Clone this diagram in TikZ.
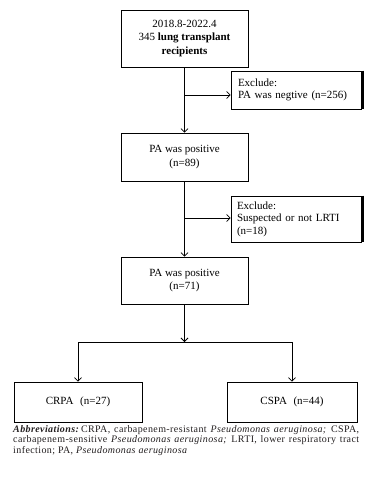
\documentclass[tikz,border=0pt]{standalone}
\usepackage{fontspec}
\setmainfont{Liberation Serif}
\newfontfamily\capfont[LetterSpace=4]{Liberation Serif}
\usetikzlibrary{arrows.meta}
\definecolor{captxt}{HTML}{231F20}
\definecolor{shade}{HTML}{3A3A3A}
\begin{document}
\begin{tikzpicture}[x=1pt,y=-1pt,
  box/.style={draw, line width=0.6pt, align=center, inner sep=2pt, font=\fontsize{11}{13.5}\selectfont},
  exbox/.style={draw, line width=0.6pt, align=left, inner sep=0pt, text width=118pt, font=\fontsize{11}{12.5}\selectfont},
  conn/.style={line width=0.8pt},
  arr/.style={conn, -{Straight Barb[length=3.5pt,width=7pt]}}]
\useasboundingbox (0,0) rectangle (371,490);
\node[box, minimum width=127pt, minimum height=57pt] (b1) at (184.5,38.5)
  {2018.8-2022.4\\345 \textbf{lung transplant}\\\textbf{recipients}};
\node[exbox, minimum width=130pt, minimum height=38pt] (ex1) at (296,90)
  {\hspace*{1pt}Exclude:\\ \hspace*{1pt}PA was negtive (n=256)};
\node[box, minimum width=127pt, minimum height=48pt] (b2) at (184.5,157)
  {PA was positive\\(n=89)};
\node[exbox, minimum width=130pt, minimum height=46pt] (ex2) at (296,219)
  {Exclude:\\Suspected or not LRTI\\(n=18)};
\node[box, minimum width=127pt, minimum height=47pt] (b3) at (184.5,280.5)
  {PA was positive\\(n=71)};
\node[box, minimum width=128pt, minimum height=40pt] (crpa) at (78,402)
  {CRPA\hspace{0.6em}(n=27)};
\node[box, minimum width=130pt, minimum height=40pt] (cspa) at (292,402)
  {CSPA\hspace{0.6em}(n=44)};
% shaded right edges of exclude boxes
\draw[shade, line width=2.2pt] ([xshift=1.1pt]ex1.north east) -- ([xshift=1.1pt]ex1.south east);
\draw[shade, line width=2.2pt] ([xshift=1.1pt]ex2.north east) -- ([xshift=1.1pt]ex2.south east);
% connectors
\coordinate (t1) at (184.5,95);
\coordinate (t2) at (184.5,218);
\draw[arr] (b1) -- (b2);
\draw[arr] (t1) -- (t1 -| ex1.west);
\draw[arr] (b2) -- (b3);
\draw[arr] (t2) -- (t2 -| ex2.west);
\coordinate (j) at (184.5,342);
\coordinate (jl) at (78,342);
\coordinate (jr) at (292,342);
\draw[arr] (b3) -- (j);
\draw[conn] (jl) -- (jr);
\draw[arr] (jl) -- (crpa);
\draw[arr] (jr) -- (cspa);
% caption
\node[anchor=north west, inner sep=0pt, text width=346pt, align=justify, text=captxt,
  font=\capfont\fontsize{10}{10.5}\selectfont] (cap) at (13,425)
  {\textbf{\textit{Abbreviations:}}\,CRPA, carbapenem-resistant \textit{Pseudomonas aeruginosa;} CSPA,\linebreak
   carbapenem-sensitive \textit{Pseudomonas aeruginosa;} LRTI, lower respiratory tract\linebreak
   infection; PA, \textit{Pseudomonas aeruginosa}};
\end{tikzpicture}
\end{document}
